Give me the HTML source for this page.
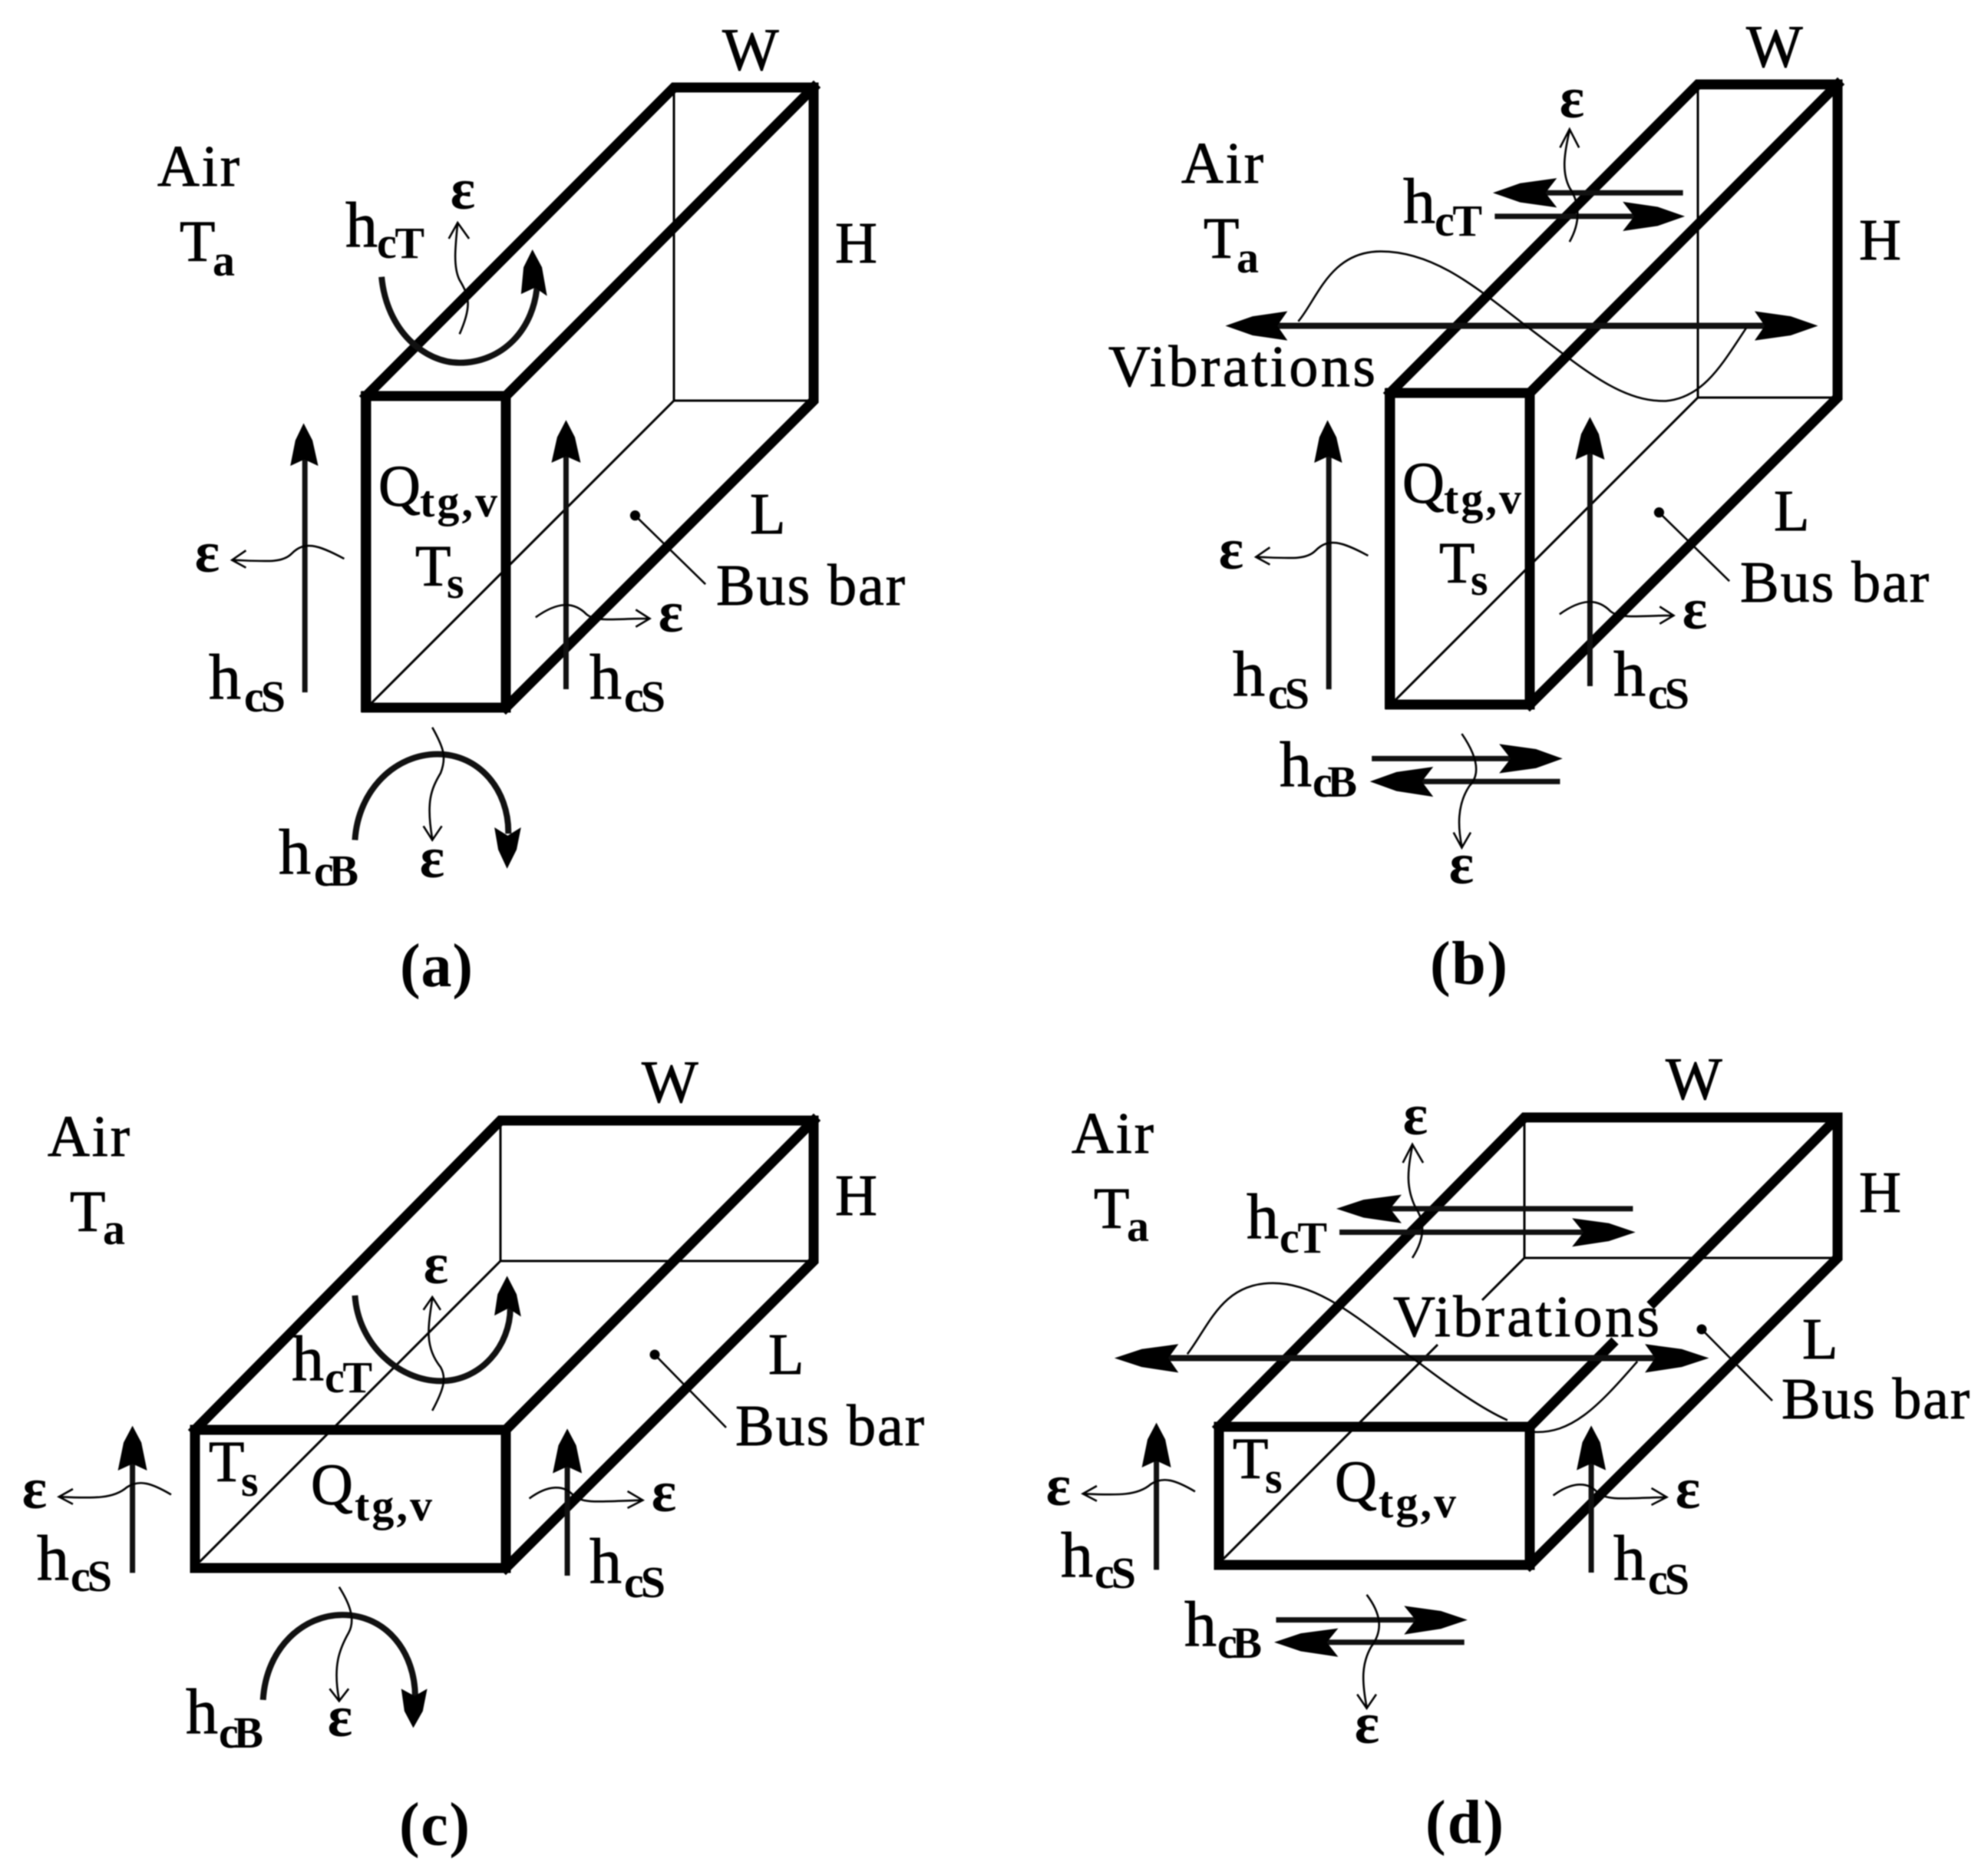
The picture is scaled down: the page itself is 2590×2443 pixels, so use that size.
<!DOCTYPE html>
<html>
<head>
<meta charset="utf-8">
<style>
html,body{margin:0;padding:0;background:#fff}
svg{display:block;filter:blur(.7px)}
svg *{vector-effect:non-scaling-stroke}
.k{fill:none;stroke:#000;stroke-width:13;stroke-linecap:square;stroke-linejoin:miter}
.n{fill:none;stroke:#000;stroke-width:3}
.m{fill:none;stroke:#111;stroke-width:7}
.a{fill:none;stroke:#111;stroke-width:8}
.f{fill:#000;stroke:none}
.w{fill:none;stroke:#000;stroke-width:2.6}
text{font-family:"Liberation Serif",serif;fill:#000}
.l{font-size:76px;stroke:#000;stroke-width:.9}
.s{font-size:58px;font-weight:bold}
.e{font-size:76px;font-weight:bold;text-anchor:middle}
.c{font-size:80px;font-weight:bold}
</style>
</head>
<body>
<svg xmlns="http://www.w3.org/2000/svg" width="2590" height="2443" viewBox="0 0 2590 2443">
<rect width="2590" height="2443" fill="#fff"/>
<defs>
<g id="boxA">
<path class="n" d="M878 114V522H1060M878 522L482 918"/>
<path class="k" d="M477 516L878 114H1060V522L659 922M659 516L1060 114"/>
<rect class="k" x="477" y="516" width="182" height="406"/>
<rect class="f" x="470" y="510" width="10" height="418"/>
</g>
<g id="sideA" transform="scale(.8258,.8292)">
<path class="m" d="M481 1088V710M893 1083V705"/>
<polygon class="f" points="479,665 493,692 502,732 480,722 458,732 466,692"/>
<polygon class="f" points="893,660 907,687 916,727 893,717 870,727 879,687"/>
<path class="w" d="M543 878C500 855 480 850 460 870C445 885 420 882 368 880M388 865L366 880L388 892"/>
<path class="w" d="M845 970C880 945 905 945 925 965C940 978 970 972 1022 972M1003 958L1025 972L1003 985"/>
<circle class="f" cx="1002" cy="810" r="8"/>
<path class="w" d="M1002 810L1113 918"/>
</g>
<g id="sideC" transform="translate(0,1300) scale(.8258,.729)">
<path class="m" d="M209 1028V820M895 1033V825"/>
<polygon class="f" points="209,765 223,795 232,845 209,833 186,845 195,795"/>
<polygon class="f" points="895,770 909,800 918,850 895,838 872,850 881,800"/>
<path class="w" d="M270 888C240 868 220 860 200 875C180 895 150 895 95 892M115 878L93 892L115 905"/>
<path class="w" d="M835 895C865 870 890 870 905 890C920 905 950 900 1013 898M990 882L1014 898L990 912"/>
</g>
</defs>

<!-- PANEL A -->
<use href="#boxA"/>
<use href="#sideA"/>
<g transform="scale(.8258,.8292)">
<path class="a" d="M602 435C610 520 670 570 725 570C790 570 845 520 848 440"/>
<polygon class="f" points="840,392 855,420 863,465 844,452 822,462 826,420"/>
<path class="a" d="M560 1320C565 1240 625 1185 690 1185C755 1185 803 1240 802 1310"/>
<polygon class="f" points="800,1365 815,1335 822,1300 801,1313 780,1300 786,1335"/>
<path class="w" d="M725 525C745 480 740 465 725 440C715 420 718 390 722 350M708 375L722 350L740 375"/>
<path class="w" d="M682 1143C700 1175 705 1190 695 1215C680 1240 672 1260 682 1318M668 1298L682 1320L697 1298"/>
</g>
<g>
<text class="l" x="941" y="91" style="font-size:78px" textLength="73">W</text>
<text class="l" x="205" y="242" textLength="107">Air</text>
<text class="l" x="234" y="340">T</text><text class="s" x="277" y="359">a</text>
<text class="l" x="1088" y="342" textLength="52">H</text>
<text class="l" x="977" y="695">L</text>
<text class="l" x="933" y="788" textLength="246">Bus bar</text>
<text class="l" x="493" y="659">Q</text><text class="s" x="547" y="673" textLength="101">tg,v</text>
<text class="l" x="541" y="763">T</text><text class="s" x="582" y="779">s</text>
<text class="l" x="450" y="321" style="font-size:84px">h</text><text class="s" x="491" y="336" textLength="62">cT</text>
<text class="l" x="272" y="910" style="font-size:84px">h</text><text class="s" x="318" y="927" textLength="54">cS</text>
<text class="l" x="768" y="910" style="font-size:84px">h</text><text class="s" x="813" y="927" textLength="54">cS</text>
<text class="l" x="363" y="1138" style="font-size:84px">h</text><text class="s" x="409" y="1154" textLength="58">cB</text>
<text class="e" x="603" y="272">ε</text>
<text class="e" x="270" y="745">ε</text>
<text class="e" x="874" y="823">ε</text>
<text class="e" x="563" y="1143">ε</text>
<text class="c" x="521" y="1285" textLength="95">(a)</text>
</g>

<!-- PANEL B -->
<g transform="translate(1334,-4)">
<use href="#boxA"/>
<use href="#sideA"/>
<text class="l" x="941" y="91" style="font-size:78px" textLength="73">W</text>
<text class="l" x="205" y="242" textLength="107">Air</text>
<text class="l" x="234" y="340">T</text><text class="s" x="277" y="359">a</text>
<text class="l" x="1088" y="342" textLength="52">H</text>
<text class="l" x="977" y="695">L</text>
<text class="l" x="933" y="788" textLength="246">Bus bar</text>
<text class="l" x="493" y="659">Q</text><text class="s" x="547" y="673" textLength="101">tg,v</text>
<text class="l" x="541" y="763">T</text><text class="s" x="582" y="779">s</text>
<text class="l" x="272" y="910" style="font-size:84px">h</text><text class="s" x="318" y="927" textLength="54">cS</text>
<text class="l" x="768" y="910" style="font-size:84px">h</text><text class="s" x="813" y="927" textLength="54">cS</text>
<text class="e" x="270" y="745">ε</text>
<text class="e" x="874" y="823">ε</text>
</g>
<g transform="translate(1295,0) scale(.8258,.8292)">
<path class="m" d="M1087 303H850M790 340H1030"/>
<polygon class="f" points="787,303 830,288 888,280 870,303 888,326 830,318"/>
<polygon class="f" points="1090,340 1047,325 992,317 1010,340 992,363 1047,355"/>
<path class="w" d="M908 380C925 350 925 320 908 295C895 270 900 240 908 205M893 232L908 203L923 232"/>
<path class="m" style="stroke-width:8" d="M420 512H1240"/>
<polygon class="f" points="365,512 408,497 463,489 447,512 463,535 408,527"/>
<polygon class="f" points="1300,512 1257,497 1200,489 1216,512 1200,535 1257,527"/>
<path class="w" d="M480 505C510 470 530 395 610 395C700 395 770 460 850 520C930 580 990 632 1060 630C1120 625 1150 570 1187 515"/>
<path class="m" d="M596 1192H840M893 1228H650"/>
<polygon class="f" points="897,1192 855,1177 797,1169 815,1192 797,1215 855,1207"/>
<polygon class="f" points="593,1228 635,1213 693,1205 675,1228 693,1252 635,1243"/>
<path class="w" d="M738 1153C760 1185 770 1215 750 1235C730 1265 732 1300 738 1330M725 1308L738 1332L752 1308"/>
</g>
<g transform="translate(1295,0)">
<text class="l" x="533" y="290" style="font-size:84px">h</text><text class="s" x="574" y="307" textLength="62">cT</text>
<text class="l" x="372" y="1024" style="font-size:84px">h</text><text class="s" x="415" y="1038" textLength="58">cB</text>
<text class="e" x="753" y="153">ε</text>
<text class="e" x="609" y="1151">ε</text>
<text class="l" x="149" y="503" textLength="348">Vibrations</text>
<text class="c" x="568" y="1282" textLength="101">(b)</text>
</g>

<!-- PANEL C -->
<path class="n" d="M652 1460V1643H1060M652 1643L260 2035"/>
<path class="k" d="M254 1863L652 1460H1060V1643L659 2043M659 1863L1060 1460"/>
<rect class="k" x="254" y="1863" width="405" height="180"/>
<use href="#sideC"/>
<g transform="translate(0,1300) scale(.8258,.729)">
<path class="a" d="M560 532C565 620 630 685 695 685C760 685 805 620 805 555"/>
<polygon class="f" points="800,497 815,530 822,570 802,555 780,568 785,530"/>
<path class="a" d="M415 1255C420 1160 480 1103 540 1103C610 1103 655 1170 655 1250"/>
<polygon class="f" points="652,1305 667,1275 674,1235 654,1248 633,1235 638,1275"/>
<path class="w" d="M682 738C700 700 705 680 695 660C670 625 675 590 682 538M668 558L682 535L695 558"/>
<path class="w" d="M535 1053C550 1080 562 1110 550 1135C535 1165 525 1195 535 1255M520 1235L535 1257L550 1235"/>
</g>
<circle class="f" cx="853" cy="1765" r="6.5"/>
<path class="w" d="M853 1765L946 1860"/>
<g>
<text class="l" x="836" y="1436" style="font-size:78px" textLength="73">W</text>
<text class="l" x="62" y="1506" textLength="107">Air</text>
<text class="l" x="91" y="1604">T</text><text class="s" x="134" y="1621">a</text>
<text class="l" x="1088" y="1583" textLength="52">H</text>
<text class="l" x="1001" y="1790">L</text>
<text class="l" x="958" y="1883" textLength="246">Bus bar</text>
<text class="l" x="272" y="1930">T</text><text class="s" x="314" y="1949">s</text>
<text class="l" x="405" y="1960">Q</text><text class="s" x="462" y="1981" textLength="101">tg,v</text>
<text class="l" x="380" y="1798" style="font-size:84px">h</text><text class="s" x="423" y="1814" textLength="62">cT</text>
<text class="l" x="48" y="2058" style="font-size:84px">h</text><text class="s" x="92" y="2073" textLength="54">cS</text>
<text class="l" x="768" y="2062" style="font-size:84px">h</text><text class="s" x="813" y="2081" textLength="54">cS</text>
<text class="l" x="242" y="2258" style="font-size:84px">h</text><text class="s" x="285" y="2277" textLength="58">cB</text>
<text class="e" x="568" y="1672">ε</text>
<text class="e" x="45" y="1965">ε</text>
<text class="e" x="865" y="1969">ε</text>
<text class="e" x="443" y="2262">ε</text>
<text class="c" x="520" y="2404" textLength="92">(c)</text>
</g>

<!-- PANEL D -->
<path class="n" d="M1986 1456V1639H2394M1986 1639L1931 1694M1873 1752L1594 2031"/>
<path class="k" d="M1588 1859L1986 1456H2394V1639L1993 2039"/>
<path class="k" style="stroke-linecap:butt" d="M1993 1859L2104 1747M2150 1701L2394 1456"/>
<rect class="k" x="1588" y="1859" width="405" height="180"/>
<g transform="translate(1334,-4)">
<use href="#sideC"/>
<text class="l" x="836" y="1436" style="font-size:78px" textLength="73">W</text>
<text class="l" x="62" y="1506" textLength="107">Air</text>
<text class="l" x="91" y="1604">T</text><text class="s" x="134" y="1621">a</text>
<text class="l" x="1088" y="1583" textLength="52">H</text>
<text class="l" x="272" y="1930">T</text><text class="s" x="314" y="1949">s</text>
<text class="l" x="405" y="1960">Q</text><text class="s" x="462" y="1981" textLength="101">tg,v</text>
<text class="l" x="48" y="2058" style="font-size:84px">h</text><text class="s" x="92" y="2073" textLength="54">cS</text>
<text class="l" x="768" y="2062" style="font-size:84px">h</text><text class="s" x="813" y="2081" textLength="54">cS</text>
<text class="e" x="45" y="1965">ε</text>
<text class="e" x="865" y="1969">ε</text>
</g>
<g transform="translate(1295,1300) scale(.8258,.729)">
<path class="m" d="M1008 377H610M545 419H950"/>
<polygon class="f" points="540,377 583,361 643,352 625,377 643,403 583,393"/>
<polygon class="f" points="1012,419 970,403 912,394 930,419 912,445 970,435"/>
<path class="w" d="M660 465C680 430 680 400 665 375C650 340 652 310 660 265M645 295L660 262L677 295"/>
<path class="m" style="stroke-width:8" d="M245 644H1070"/>
<polygon class="f" points="190,644 233,628 291,619 275,644 291,670 233,660"/>
<polygon class="f" points="1128,644 1085,628 1027,619 1043,644 1027,670 1085,660"/>
<path class="w" d="M305 637C340 585 360 510 440 510C520 510 590 590 670 652C720 695 770 735 810 755M850 776C910 780 950 735 1015 650"/>
<path class="m" d="M445 1112H690M742 1152H500"/>
<polygon class="f" points="747,1112 705,1096 647,1087 665,1112 647,1138 705,1128"/>
<polygon class="f" points="442,1152 484,1136 543,1127 525,1152 543,1178 484,1168"/>
<path class="w" d="M588 1067C610 1100 615 1130 595 1160C580 1190 580 1220 588 1268M573 1245L588 1270L603 1245"/>
</g>
<circle class="f" cx="2217" cy="1732" r="6.5"/>
<path class="w" d="M2217 1732L2309 1825"/>
<g transform="translate(1295,1300)">
<text class="l" x="329" y="313" style="font-size:84px">h</text><text class="s" x="372" y="332" textLength="62">cT</text>
<text class="l" x="248" y="844" style="font-size:84px">h</text><text class="s" x="291" y="860" textLength="58">cB</text>
<text class="e" x="549" y="178">ε</text>
<text class="e" x="486" y="971">ε</text>
<text class="l" x="520" y="441" textLength="347">Vibrations</text>
<text class="l" x="1053" y="470">L</text>
<text class="l" x="1026" y="548" textLength="245">Bus bar</text>
<text class="c" x="562" y="1101" textLength="102">(d)</text>
</g>
</svg>
</body>
</html>
